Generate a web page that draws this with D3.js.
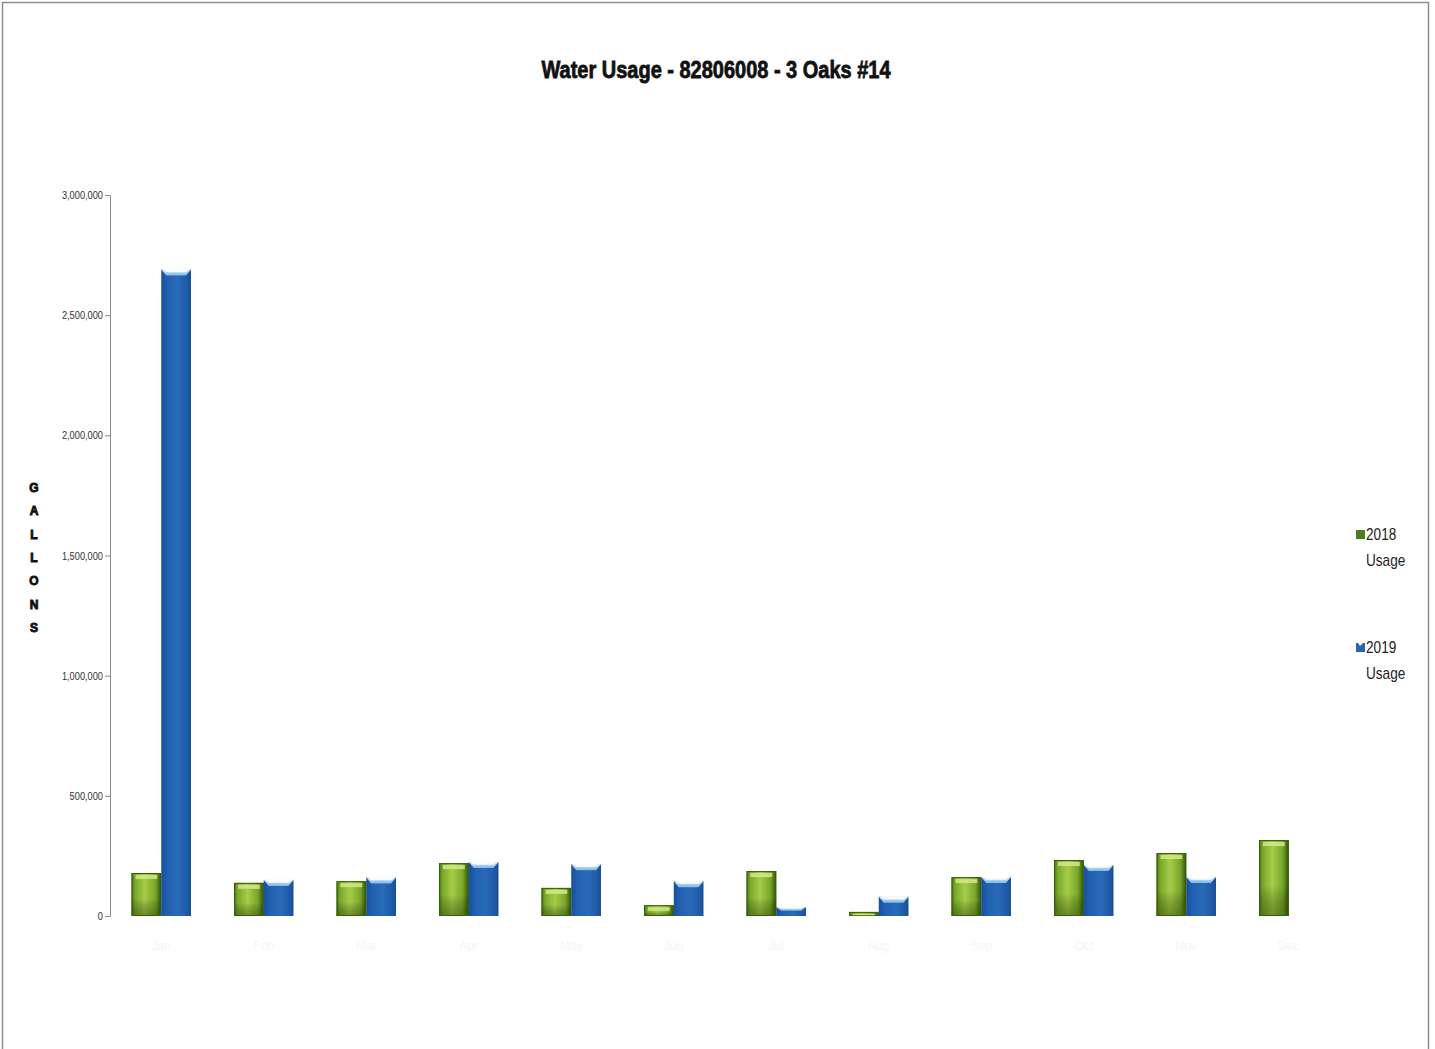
<!DOCTYPE html>
<html><head><meta charset="utf-8">
<script src="https://cdn.jsdelivr.net/npm/d3@7"></script>
<style>
html,body{margin:0;padding:0;background:#fff;}
svg{display:block;}
</style></head>
<body>
<script>
const categories = ["Jan","Feb","Mar","Apr","May","Jun","Jul","Aug","Sep","Oct","Nov","Dec"];
const seriesNames = ["2018 Usage","2019 Usage"];
const usage2018 = [179000,138000,145000,220000,117000,45000,187000,17000,162000,233000,262000,316000];
const usage2019 = [2690000,150000,160000,225000,215000,145000,37000,80000,162000,212000,162000,null];
const yTicks = [0,500000,1000000,1500000,2000000,2500000,3000000];
const title = "Water Usage - 82806008 - 3 Oaks #14";
const yLabel = "GALLONS";

const W = 1435, H = 1049;
const svg = d3.select("body").append("svg").attr("width", W).attr("height", H);
const defs = svg.append("defs");

function hGrad(id, stops){
  const g = defs.append("linearGradient").attr("id", id).attr("x1","0").attr("x2","1").attr("y1","0").attr("y2","0");
  stops.forEach(s => g.append("stop").attr("offset", s[0]).attr("stop-color", s[1]));
}
function vGrad(id, stops){
  const g = defs.append("linearGradient").attr("id", id).attr("x1","0").attr("x2","0").attr("y1","0").attr("y2","1");
  stops.forEach(s => g.append("stop").attr("offset", s[0]).attr("stop-color", s[1]));
}
function condense(sel, f){
  sel.each(function(){
    const len = this.getComputedTextLength();
    d3.select(this).attr("textLength", len*f).attr("lengthAdjust","spacingAndGlyphs");
  });
}
hGrad("gGreen", [[0,"#4a7414"],[0.12,"#79a82a"],[0.45,"#a6cc48"],[0.8,"#7aa62c"],[0.92,"#4b7613"],[1,"#2f4f08"]]);
vGrad("gGreenShade", [[0,"rgba(0,0,0,0)"],[0.6,"rgba(0,0,0,0)"],[1,"rgba(40,70,0,0.45)"]]);
hGrad("gBlue", [[0,"#1b4f9a"],[0.2,"#2060b0"],[0.55,"#2a6bb8"],[0.9,"#1d58a6"],[1,"#184c92"]]);
vGrad("gBlueCap", [[0,"#d8ecfa"],[1,"#7fb6e6"]]);

// frame
svg.append("rect").attr("x",2.5).attr("y",2.5).attr("width",1426).attr("height",1070)
  .attr("fill","none").attr("stroke","#8f8f8f").attr("stroke-width",1.5);

// title
svg.append("text").attr("x",716).attr("y",78).attr("text-anchor","middle")
  .attr("font-family","'Liberation Sans Narrow','Liberation Sans',Arial,sans-serif")
  .attr("font-weight","bold").attr("font-size",24).attr("fill","#111")
  .attr("textLength",349).attr("lengthAdjust","spacingAndGlyphs")
  .style("stroke","#111").style("stroke-width",0.8)
  .text(title);

const x0 = 110, x1 = 1340;
const y = d3.scaleLinear().domain([0,3000000]).range([916,195]);
const xBand = d3.scaleBand().domain(categories).range([x0,x1]).paddingInner(0.42).paddingOuter(0.21);
const xSub = d3.scaleBand().domain(seriesNames).range([0, xBand.bandwidth()]);

// y axis
const yAxis = d3.axisLeft(y).tickValues(yTicks).tickSize(5).tickSizeOuter(0)
  .tickFormat(d3.format(","));
const ya = svg.append("g").attr("transform",`translate(${x0},0)`).call(yAxis);
ya.select(".domain").attr("stroke","#8a8a8a");
ya.selectAll(".tick line").attr("stroke","#8a8a8a");
ya.selectAll(".tick text").attr("font-family","'Liberation Sans','DejaVu Sans',sans-serif")
  .attr("font-size",11).attr("fill","#333").attr("x",-7);
condense(ya.selectAll(".tick text"), 0.84);

// y label stacked
const letters = yLabel.split("");
svg.append("g").selectAll("text").data(letters).join("text")
  .attr("x",34).attr("y",(d,i)=>492 + i*23.3).attr("text-anchor","middle")
  .attr("font-family","'Liberation Sans','DejaVu Sans',sans-serif").attr("font-weight","bold")
  .attr("font-size",12).attr("fill","#111").style("stroke","#111").style("stroke-width",0.9)
  .text(d=>d);

// faint category labels
svg.append("g").selectAll("text").data(categories).join("text")
  .attr("x",d=>xBand(d)+xBand.bandwidth()/2).attr("y",950).attr("text-anchor","middle")
  .attr("font-family","'Liberation Sans',sans-serif").attr("font-size",12)
  .attr("fill","#f7f4f4").text(d=>d);

const data = categories.map((c,i)=>({c, v:[usage2018[i], usage2019[i]]}));
const groups = svg.append("g").selectAll("g").data(data).join("g")
  .attr("transform", d=>`translate(${xBand(d.c)},0)`);

groups.each(function(d){
  const g = d3.select(this);
  const w = xSub.bandwidth();
  if (d.v[0] != null){
    const bx = xSub(seriesNames[0]), top = y(d.v[0]), bot = y(0);
    g.append("rect").attr("x",bx).attr("y",top).attr("width",w).attr("height",bot-top).attr("fill","url(#gGreen)");
    g.append("rect").attr("x",bx).attr("y",top).attr("width",w).attr("height",bot-top).attr("fill","url(#gGreenShade)");
    g.append("rect").attr("x",bx+0.5).attr("y",top+0.5).attr("width",w-1).attr("height",Math.max(0,bot-top-1))
      .attr("fill","none").attr("stroke","#3a5e0c").attr("stroke-width",1);
    const capH = Math.min(4, (bot-top)/3);
    g.append("rect").attr("x",bx+4).attr("y",top+2).attr("width",w-8).attr("height",capH)
      .attr("fill","#d4e88a").attr("opacity",0.85);
  }
  if (d.v[1] != null){
    const bx = xSub(seriesNames[1]), top = y(d.v[1]), bot = y(0);
    g.append("rect").attr("x",bx).attr("y",top).attr("width",w).attr("height",bot-top).attr("fill","url(#gBlue)");
    const n = Math.min(6, (bot-top)*0.4);
    const cap = d3.path();
    cap.moveTo(bx, top); cap.lineTo(bx+w, top); cap.lineTo(bx+w-5, top+n); cap.lineTo(bx+5, top+n); cap.closePath();
    g.append("path").attr("d",cap.toString()).attr("fill","url(#gBlueCap)");
    const cut = d3.path();
    cut.moveTo(bx+1, top-0.5); cut.lineTo(bx+w-1, top-0.5); cut.lineTo(bx+w-5, top+n*0.45); cut.lineTo(bx+5, top+n*0.45); cut.closePath();
    g.append("path").attr("d",cut.toString()).attr("fill","#fff").attr("opacity",0.9);
  }
});

// legend
const leg = svg.append("g");
const legFont = "'Liberation Sans','DejaVu Sans',sans-serif";
leg.append("rect").attr("x",1356).attr("y",530).attr("width",9).attr("height",9).attr("fill","#4e7d1c");
const lm = d3.path();
lm.moveTo(1356,643); lm.lineTo(1358,643); lm.lineTo(1360,646); lm.lineTo(1363,643); lm.lineTo(1365,643);
lm.lineTo(1365,652); lm.lineTo(1356,652); lm.closePath();
leg.append("path").attr("d",lm.toString()).attr("fill","#2a62b0");
const legTexts = [["2018",540],["Usage",566],["2019",653],["Usage",679]];
leg.selectAll("text.lt").data(legTexts).join("text").attr("class","lt")
  .attr("x",1366).attr("y",d=>d[1]).attr("font-family",legFont).attr("font-size",17).attr("fill","#222")
  .text(d=>d[0]);
condense(leg.selectAll("text.lt"), 0.8);
</script>
</body></html>
